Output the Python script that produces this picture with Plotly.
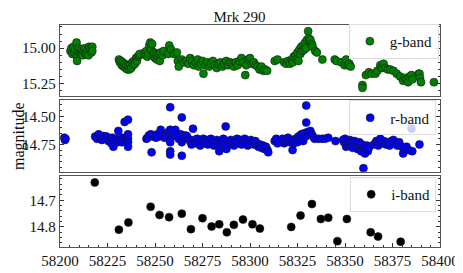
import plotly.graph_objects as go

# g-band light curve (MJD, magnitude)
g_mjd = [58205.5, 58206, 58206.5, 58207, 58207.5, 58208, 58208.7, 58209, 58209, 58209.5,
         58210, 58210.5, 58211, 58211.5, 58212, 58212.5, 58213, 58213.5, 58214, 58214.5,
         58215, 58215.3, 58216, 58216.5, 58217, 58217,
         58231, 58231.5, 58232, 58232.5, 58233, 58233.5, 58234, 58234.5, 58235, 58235.5,
         58236, 58236.5, 58237, 58237.5, 58238, 58238.5, 58239, 58239.5, 58240, 58240.5,
         58241, 58241.5, 58242,
         58244.5, 58245, 58245.5, 58246, 58246.5, 58247, 58247.5, 58248, 58248.5, 58249,
         58249.5, 58250, 58250.5, 58251, 58251.5, 58252, 58252.5, 58253, 58254, 58254.5,
         58257, 58257.5, 58258.5, 58260, 58261.5, 58262, 58262.5, 58264, 58265, 58266.5,
         58267.5, 58268.5, 58269.5, 58270.5, 58271.5, 58272.5, 58273, 58274, 58275, 58275.5,
         58276.5, 58277.5, 58278.5, 58279.5, 58280.5, 58281.5, 58282.5, 58283.5, 58284.5, 58285.5,
         58286.5, 58287.5, 58288.5, 58289.5, 58290.5, 58291.5, 58292.5, 58293.5, 58294.5, 58295.5,
         58296.5, 58297.5, 58298, 58299, 58300, 58301, 58302, 58303, 58304, 58305,
         58306, 58307, 58308, 58309,
         58313, 58314.5, 58318, 58319, 58320, 58321, 58322, 58322.5, 58323, 58324,
         58324.5, 58325, 58325.5, 58326, 58326.5, 58327, 58327.5, 58328, 58328.5, 58329,
         58329.5, 58330, 58330.6, 58331, 58331.8, 58332.6, 58333, 58334.3, 58335.2, 58338.1,
         58344.6, 58345.5, 58348, 58349.8, 58350.6, 58351.5, 58352.3, 58353,
         58359.2, 58359.2, 58361, 58362.6, 58364, 58366, 58367, 58368.6, 58369.5, 58370.3,
         58371.2, 58372.5, 58373.8, 58375.5, 58377.2, 58379, 58380.6, 58381.5, 58382.4, 58383.2,
         58384, 58385, 58385.5, 58388.8, 58389.2, 58389.5, 58390, 58396.8]
g_mag = [15.02, 15.00, 15.04, 14.99, 15.03, 15.01, 14.96, 15.06, 15.09, 15.02,
         15.00, 15.04, 15.03, 15.01, 15.05, 15.02, 15.00, 15.04, 15.03, 15.01,
         15.05, 14.99, 15.00, 15.03, 14.99, 15.02,
         15.08, 15.10, 15.09, 15.12, 15.10, 15.13, 15.11, 15.14, 15.12, 15.15,
         15.13, 15.15, 15.12, 15.14, 15.10, 15.12, 15.09, 15.11, 15.07, 15.09,
         15.06, 15.05, 15.04,
         15.03, 15.05, 15.02, 15.06, 15.04, 14.98, 14.96, 15.01, 14.97, 15.05,
         15.03, 15.07, 15.04, 15.08, 15.06, 15.04, 15.09, 15.03, 15.05, 15.02,
         15.04, 14.98, 15.01, 15.04, 15.03, 15.09, 15.13, 15.08, 15.10, 15.09,
         15.11, 15.07, 15.09, 15.12, 15.10, 15.08, 15.13, 15.11, 15.09, 15.18,
         15.12, 15.10, 15.13, 15.11, 15.09, 15.12, 15.14, 15.11, 15.10, 15.13,
         15.11, 15.09, 15.12, 15.10, 15.11, 15.13, 15.10, 15.12, 15.09, 15.07,
         15.10, 15.19, 15.12, 15.08, 15.07, 15.11, 15.10, 15.12, 15.13, 15.15,
         15.13, 15.16, 15.15, 15.16,
         15.09, 15.08, 15.10, 15.11, 15.09, 15.11, 15.08, 15.10, 15.06, 15.05,
         15.08, 15.03, 15.09, 15.01, 15.04, 14.99, 15.02, 14.98, 15.01, 14.96,
         15.00, 14.94, 14.88, 14.93, 14.94, 14.97, 14.99, 15.02, 15.03, 15.08,
         15.08, 15.09, 15.10, 15.12, 15.08, 15.12, 15.11, 15.13,
         15.26, 15.28, 15.19, 15.17, 15.18, 15.18, 15.16, 15.12, 15.14, 15.11,
         15.14, 15.15, 15.15, 15.16, 15.18, 15.20, 15.23, 15.21, 15.22, 15.24,
         15.20, 15.19, 15.22, 15.18, 15.18, 15.21, 15.24, 15.24]

# r-band light curve
r_mjd = [58202.3, 58202.6, 58202.9,
         58218.5, 58219.5, 58220.4, 58221, 58222, 58223, 58223.8, 58224.5, 58225.5, 58226.4,
         58227, 58227.5, 58228.1, 58228.8, 58229.5, 58230.2, 58230.7, 58231.5, 58232.4, 58233,
         58234, 58234.6, 58235.8, 58235.8, 58235.8, 58235.8, 58235.8,
         58245.5, 58246.1, 58246.8, 58247.8, 58248.2, 58249, 58249.8, 58250.5, 58251.3, 58252,
         58253, 58254, 58255, 58256, 58257, 58258, 58258, 58258, 58258, 58258,
         58258, 58259, 58260, 58260.7, 58261.5, 58262.5, 58263.5, 58264.1, 58264.1, 58264.1,
         58265, 58265.8, 58266.7, 58267.5,
         58268.5, 58269.2, 58270, 58270.6, 58271.4, 58272.2, 58273, 58273.8, 58274.6, 58275.4,
         58276.2, 58277, 58277.8, 58278.6, 58279.4, 58280.2, 58281, 58281.8, 58282.6, 58283.4,
         58283.8, 58284.4, 58285.2, 58286, 58286.8, 58287.2, 58287.6, 58288.4, 58289.2, 58290,
         58290.8, 58291.6, 58292.4, 58293.2, 58294, 58294.8, 58295.6, 58296.4, 58297.2, 58298,
         58298.8, 58299.6, 58300.4, 58301.2, 58302, 58302.8, 58303.6, 58304.4, 58305.2, 58306,
         58306.8, 58307.6, 58308.4, 58309.2, 58309.6,
         58313, 58313.8, 58314.5, 58317.2, 58318, 58319, 58320, 58321, 58322, 58322.4,
         58323, 58324, 58325, 58325.5, 58326.2, 58327, 58327.5, 58328, 58328.6, 58329.2,
         58329.6, 58329.6, 58330.3, 58331, 58331.8, 58332.5, 58333.2, 58334, 58336, 58338,
         58339.5, 58341.2, 58345,
         58349, 58349.5, 58350, 58350.6, 58351, 58351.5, 58352, 58352.5, 58353, 58353.5,
         58354, 58354.5, 58355, 58355.5, 58356, 58356.5, 58357, 58357.5, 58358, 58358.5,
         58359, 58359.5, 58359.7, 58360, 58360.5, 58361, 58361.5, 58362, 58362.6,
         58365.2, 58366.5, 58367.5, 58368.6, 58369.5, 58370.5, 58371.5, 58372.5, 58373.5, 58374.5,
         58375.5, 58376.5, 58377.5, 58378.5, 58380, 58380.6, 58381.5, 58382.4, 58383.5, 58385,
         58385.4, 58389.2]
r_mag = [14.69, 14.71, 14.70,
         14.68, 14.70, 14.66, 14.69, 14.71, 14.675, 14.70, 14.68, 14.72, 14.70,
         14.74, 14.69, 14.77, 14.72, 14.70, 14.73, 14.63, 14.71, 14.73, 14.69,
         14.55, 14.70, 14.53, 14.66, 14.70, 14.73, 14.77,
         14.70, 14.69, 14.67, 14.66, 14.82, 14.68, 14.67, 14.69, 14.66, 14.68,
         14.62, 14.67, 14.69, 14.66, 14.64, 14.42, 14.62, 14.70, 14.73, 14.81,
         14.84, 14.67, 14.65, 14.62, 14.68, 14.70, 14.66, 14.51, 14.73, 14.85,
         14.69, 14.67, 14.675, 14.70,
         14.72, 14.75, 14.61, 14.71, 14.74, 14.70, 14.73, 14.76, 14.72, 14.70,
         14.74, 14.71, 14.75, 14.73, 14.70, 14.72, 14.76, 14.74, 14.71, 14.73,
         14.81, 14.75, 14.72, 14.70, 14.74, 14.59, 14.79, 14.72, 14.75, 14.71,
         14.73, 14.76, 14.72, 14.70, 14.74, 14.71, 14.75, 14.73, 14.70, 14.72,
         14.76, 14.74, 14.71, 14.73, 14.75, 14.72, 14.74, 14.77, 14.75, 14.78,
         14.76, 14.79, 14.77, 14.80, 14.82,
         14.72, 14.70, 14.74, 14.70, 14.74, 14.72, 14.69, 14.73, 14.71, 14.80,
         14.74, 14.70, 14.73, 14.68, 14.71, 14.66, 14.69, 14.72, 14.65, 14.68,
         14.405, 14.556, 14.64, 14.66, 14.63, 14.66, 14.68, 14.70, 14.70, 14.70,
         14.70, 14.69, 14.72,
         14.71, 14.73, 14.70, 14.77, 14.72, 14.75, 14.74, 14.71, 14.76, 14.73,
         14.78, 14.75, 14.72, 14.77, 14.74, 14.79, 14.76, 14.73, 14.78, 14.81,
         14.75, 14.80, 14.96, 14.77, 14.83, 14.79, 14.76, 14.81, 14.78,
         14.75, 14.72, 14.76, 14.70, 14.74, 14.72, 14.75, 14.73, 14.76, 14.72,
         14.71, 14.74, 14.76, 14.73, 14.77, 14.83, 14.79, 14.77, 14.80, 14.61,
         14.81, 14.75]

# i-band light curve
i_mjd = [58218.3, 58231, 58236, 58247.7, 58252.4, 58257.4, 58264.1, 58268.9, 58275, 58279.8,
         58283.8, 58287.8, 58291.5, 58296.3, 58301.3, 58305.2, 58321.7, 58326.6, 58332.6, 58337.3,
         58341.2, 58346, 58351, 58363.5, 58367.4, 58379.3]
i_mag = [14.633, 14.81, 14.783, 14.724, 14.755, 14.763, 14.75, 14.808, 14.767, 14.798,
         14.79, 14.82, 14.792, 14.772, 14.79, 14.806, 14.80, 14.757, 14.714, 14.77,
         14.765, 14.853, 14.77, 14.82, 14.836, 14.855]

FONT = "Liberation Serif"
FRAME = "#555555"

fig = go.Figure()

bands = [
    (g_mjd, g_mag, "g-band", "#008000", "x", "y", "legend"),
    (r_mjd, r_mag, "r-band", "#0000ff", "x2", "y2", "legend2"),
    (i_mjd, i_mag, "i-band", "#000000", "x3", "y3", "legend3"),
]
for mjd, mag, name, col, xa, ya, leg in bands:
    fig.add_trace(go.Scatter(
        x=mjd, y=mag, mode="markers", name=name,
        marker=dict(size=8, color=col, line=dict(color="#1a1a1a", width=0.6)),
        xaxis=xa, yaxis=ya, legend=leg,
    ))

xcommon = dict(range=[58200, 58400], showgrid=False, zeroline=False,
               showline=True, mirror=True, linecolor=FRAME, linewidth=1.3)
ycommon = dict(showgrid=False, zeroline=False, showline=True, mirror="allticks",
               linecolor=FRAME, linewidth=1.3, ticks="inside", ticklen=4,
               tickcolor="#333", tickfont=dict(family=FONT, size=15, color="#111"))

fig.update_layout(
    width=463, height=273,
    margin=dict(l=52, r=22, t=17, b=20),
    plot_bgcolor="white", paper_bgcolor="white",
    font=dict(family=FONT, size=15, color="#111"),
    showlegend=True,
    xaxis=dict(**xcommon, anchor="y", matches="x3", showticklabels=False),
    xaxis2=dict(**xcommon, anchor="y2", matches="x3", showticklabels=False),
    xaxis3=dict(**xcommon, anchor="y3", ticks="inside", ticklen=4, tickcolor="#333",
                dtick=25, tick0=58200, tickformat="d",
                minor=dict(dtick=5, ticks="inside", ticklen=2, tickcolor="#333"),
                tickfont=dict(family=FONT, size=15, color="#111")),
    yaxis=dict(**ycommon, domain=[0.678, 1.0], anchor="x", range=[15.341, 14.836],
               tick0=15.0, dtick=0.25, tickformat=".2f",
               minor=dict(dtick=0.05, ticks="inside", ticklen=2, tickcolor="#333")),
    yaxis2=dict(**ycommon, domain=[0.339, 0.661], anchor="x2", range=[14.992, 14.358],
                tick0=14.5, dtick=0.25, tickformat=".2f",
                minor=dict(dtick=0.05, ticks="inside", ticklen=2, tickcolor="#333")),
    yaxis3=dict(**ycommon, domain=[0.0, 0.322], anchor="x3", range=[14.875, 14.607],
                tick0=14.7, dtick=0.1, tickformat=".1f",
                minor=dict(dtick=0.02, ticks="inside", ticklen=2, tickcolor="#333")),
    title=dict(text="Mrk 290", x=0.5, xanchor="center", y=0.988, yanchor="top",
               font=dict(family=FONT, size=15, color="#111")),
)

legstyle = dict(xanchor="right", yanchor="top", bgcolor="rgba(255,255,255,0.8)",
                bordercolor="#dddddd", borderwidth=1, font=dict(family=FONT, size=15),
                itemwidth=30)
fig.update_layout(
    legend=dict(**legstyle, x=0.997, y=1.005),
    legend2=dict(**legstyle, x=0.99, y=0.66),
    legend3=dict(**legstyle, x=0.99, y=0.315),
)

fig.add_annotation(text="magnitude", xref="paper", yref="paper", x=0, y=0.5,
                   xanchor="center", yanchor="middle",
                   xshift=-41, textangle=-90, showarrow=False,
                   font=dict(family=FONT, size=16, color="#111"))

fig.write_html("out.html")
